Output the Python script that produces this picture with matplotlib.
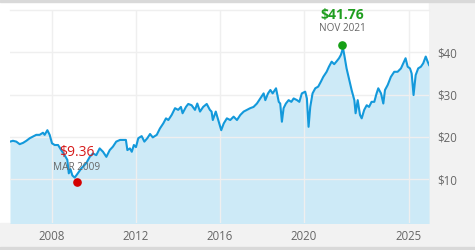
import matplotlib
matplotlib.use('Agg')
import matplotlib.pyplot as plt
from matplotlib.patches import Rectangle

plt.rcParams['font.family'] = ['Open Sans', 'DejaVu Sans']

# Price history (decimal year, price in $)
years = [2006.00, 2006.14, 2006.30, 2006.46, 2006.62, 2006.78, 2006.94, 2007.10,
         2007.25, 2007.41, 2007.57, 2007.65, 2007.78, 2007.89, 2008.00, 2008.13,
         2008.29, 2008.44, 2008.60, 2008.73, 2008.80, 2008.88, 2008.97, 2009.08,
         2009.20, 2009.40, 2009.63, 2009.80, 2009.95, 2010.11, 2010.27, 2010.43,
         2010.59, 2010.75, 2010.90, 2011.06, 2011.24, 2011.40, 2011.52, 2011.59,
         2011.71, 2011.80, 2011.90, 2012.00, 2012.11, 2012.27, 2012.40, 2012.54,
         2012.67, 2012.80, 2012.99, 2013.14, 2013.30, 2013.43, 2013.54, 2013.70,
         2013.86, 2014.01, 2014.14, 2014.22, 2014.38, 2014.49, 2014.65, 2014.81,
         2014.92, 2015.05, 2015.20, 2015.37, 2015.52, 2015.60, 2015.66, 2015.80,
         2015.94, 2016.06, 2016.18, 2016.33, 2016.49, 2016.65, 2016.81, 2016.97,
         2017.13, 2017.29, 2017.44, 2017.60, 2017.76, 2017.92, 2018.08, 2018.16,
         2018.29, 2018.40, 2018.51, 2018.67, 2018.80, 2018.87, 2018.95, 2019.03,
         2019.14, 2019.27, 2019.40, 2019.51, 2019.67, 2019.78, 2019.90, 2020.06,
         2020.14, 2020.22, 2020.30, 2020.41, 2020.54, 2020.68, 2020.81, 2020.92,
         2021.08, 2021.19, 2021.32, 2021.44, 2021.56, 2021.67, 2021.76, 2021.86,
         2021.92, 2022.03, 2022.14, 2022.27, 2022.40, 2022.46, 2022.56, 2022.67,
         2022.75, 2022.87, 2022.99, 2023.10, 2023.22, 2023.35, 2023.46, 2023.54,
         2023.67, 2023.78, 2023.86, 2023.99, 2024.14, 2024.30, 2024.46, 2024.62,
         2024.73, 2024.84, 2024.94, 2025.05, 2025.13, 2025.22, 2025.32, 2025.44,
         2025.57, 2025.68, 2025.80, 2025.89, 2025.96]
price = [18.9, 19.1, 18.9, 18.3, 18.6, 19.1, 19.7, 20.1,
         20.5, 20.5, 21.0, 20.5, 21.6, 20.5, 18.5, 18.1,
         18.1, 16.9, 15.7, 14.6, 11.4, 12.4, 10.9, 10.4,
         11.2, 12.6, 13.8, 15.3, 16.1, 15.7, 17.3, 16.5,
         15.3, 16.9, 17.7, 18.9, 19.3, 19.3, 19.3, 16.9,
         17.3, 16.5, 18.1, 17.6, 19.7, 20.2, 18.9, 19.7,
         20.7, 19.9, 20.5, 22.0, 23.2, 24.4, 24.0, 25.2,
         26.8, 26.4, 27.1, 25.6, 27.1, 27.8, 27.5, 26.4,
         27.9, 26.0, 27.1, 27.8, 26.4, 26.0, 24.0, 26.0,
         23.6, 21.6, 23.2, 24.4, 24.0, 24.8, 24.0, 25.2,
         26.0, 26.4, 26.8, 27.1, 27.9, 29.1, 30.3, 28.7,
         30.3, 31.1, 30.3, 31.5, 28.3, 27.9, 23.6, 26.8,
         27.9, 28.7, 28.3, 29.1, 28.7, 28.3, 30.3, 30.7,
         29.1, 22.4, 27.1, 30.3, 31.5, 31.9, 33.1, 34.2,
         35.4, 36.6, 37.8, 37.2, 37.9, 38.6, 39.4, 41.0,
         39.4, 36.2, 33.9, 31.1, 28.7, 25.6, 28.7, 25.2,
         24.4, 26.4, 27.5, 27.1, 28.3, 28.3, 30.3, 31.5,
         30.3, 27.9, 31.1, 32.3, 34.2, 35.4, 35.4, 36.2,
         37.4, 38.6, 36.6, 36.2, 35.0, 29.9, 34.6, 36.2,
         36.6, 37.4, 39.0, 37.8, 37.0]

x_ticks = [2008, 2012, 2016, 2020, 2025]
y_ticks = [10, 20, 30, 40]
y_labels = ['$10', '$20', '$30', '$40']

low_year, low_price, low_label = 2009.17, 9.36, 'MAR 2009'
high_year, high_price, high_label = 2021.83, 41.76, 'NOV 2021'

LINE = '#1399db'
FILL = '#cdeaf7'
GRID = '#efefef'
PANEL = '#f2f2f2'
TEXT = '#666666'

fig = plt.figure(figsize=(4.75, 2.5), dpi=100)
W, H = 475, 250

# Background panels (right label column, bottom label band, thin borders)
bg = [
    ((429.3 / W, 3 / H), 1 - 429.3 / W, 1 - 5 / H, PANEL),
    ((0, 3.3 / H), 1, (250 - 223.3 - 3.3) / H, PANEL),
    ((0, 1 - 2 / H), 1, 2 / H, '#d9d9d9'),
    ((0, 0), 1, 3.3 / H, '#d9d9d9'),
]
for xy, w, h, c in bg:
    fig.patches.append(Rectangle(xy, w, h, transform=fig.transFigure,
                                 color=c, zorder=-1))

ax = fig.add_axes([10 / W, 1 - 223.3 / H, (429.3 - 10) / W, (223.3 - 10) / H])
ax.set_zorder(1)
ax.set_facecolor('white')

ax.fill_between(years, price, -1, color=FILL, lw=0, zorder=1)
ax.plot(years, price, color=LINE, lw=1.5, zorder=3)

ax.set_xlim(2006.0, 2025.97)
ax.set_ylim(-0.4, 50)

ax.set_xticks(x_ticks)
ax.set_xticklabels([str(t) for t in x_ticks])
ax.set_yticks(y_ticks)
ax.set_yticklabels(y_labels)
ax.yaxis.tick_right()
ax.tick_params(axis='both', length=0, labelsize=8.3, labelcolor=TEXT)
ax.tick_params(axis='x', pad=5)
ax.tick_params(axis='y', pad=5.5)
for lbl in ax.get_yticklabels():
    lbl.set_horizontalalignment('left')

ax.grid(True, color=GRID, lw=1.0)
for gl in ax.get_xgridlines() + ax.get_ygridlines():
    gl.set_zorder(2)
for side in ['left', 'right', 'bottom']:
    ax.spines[side].set_visible(False)
ax.spines['top'].set_color(GRID)
ax.spines['top'].set_linewidth(1.0)

# Low / high markers
ax.plot([high_year], [high_price], 'o', color='#159f15', ms=5.2, zorder=4)
ax.annotate(f'${high_price:.2f}', (high_year, high_price), xytext=(0, 21.4),
            textcoords='offset points', ha='center', va='center',
            color='#1f9e1f', fontsize=10, fontweight='bold', zorder=5)
ax.annotate(high_label, (high_year, high_price), xytext=(0, 11.7),
            textcoords='offset points', ha='center', va='center',
            color=TEXT, fontsize=7.2, zorder=5)

ax.plot([low_year], [low_price], 'o', color='#d40000', ms=5.2, zorder=4)
ax.annotate(f'${low_price:.2f}', (low_year, low_price), xytext=(0, 20.9),
            textcoords='offset points', ha='center', va='center',
            color='#d61a1a', fontsize=10, zorder=5)
ax.annotate(low_label, (low_year, low_price), xytext=(0, 10.3),
            textcoords='offset points', ha='center', va='center',
            color=TEXT, fontsize=7.2, zorder=5)

fig.savefig('out.png', dpi=100)
